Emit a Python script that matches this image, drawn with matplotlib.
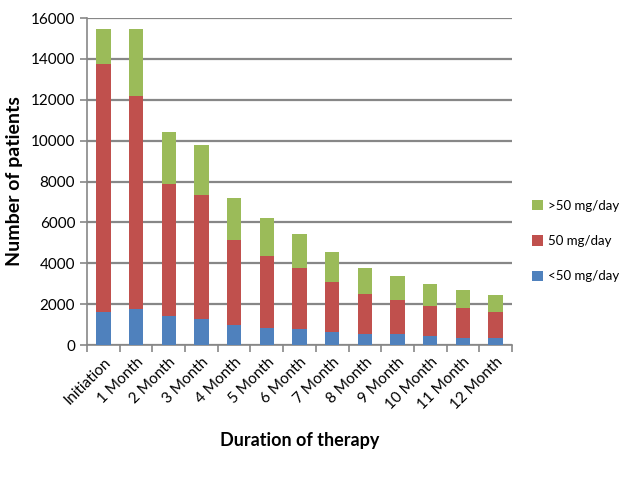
import numpy as np
import matplotlib.pyplot as plt
from matplotlib.ticker import FixedLocator

plt.rcParams['font.family'] = ['Lato', 'DejaVu Sans']

categories = ['Initiation', '1 Month', '2 Month', '3 Month', '4 Month', '5 Month',
              '6 Month', '7 Month', '8 Month', '9 Month', '10 Month', '11 Month', '12 Month']
low = [1630, 1790, 1400, 1270, 990, 850, 770, 650, 540, 520, 440, 360, 360]
mid = [12100, 10380, 6460, 6080, 4150, 3520, 3000, 2450, 1940, 1665, 1480, 1435, 1255]
high = [1720, 3280, 2580, 2450, 2040, 1860, 1645, 1435, 1300, 1190, 1050, 910, 815]

blue, red, green = '#4F81BD', '#C0504D', '#9BBB59'
grid_c = '#878787'

fig = plt.figure(figsize=(6.4, 4.8), dpi=100)
ax = fig.add_axes([0.136, 0.281, 0.664, 0.6815])

x = np.arange(len(categories))
w = 0.44
b1 = ax.bar(x, low, w, color=blue, label='<50 mg/day', zorder=3)
b2 = ax.bar(x, mid, w, bottom=low, color=red, label='50 mg/day', zorder=3)
bot = np.array(low) + np.array(mid)
b3 = ax.bar(x, high, w, bottom=bot, color=green, label='>50 mg/day', zorder=3)

ax.set_xlim(-0.5, len(categories) - 0.5)
ax.set_ylim(0, 16000)
ax.set_yticks(range(0, 16001, 2000))
ax.yaxis.grid(True, color=grid_c, linewidth=1.6, zorder=0)
ax.set_axisbelow(True)

for s in ['top', 'right']:
    ax.spines[s].set_visible(False)
ax.spines['left'].set_color(grid_c)
ax.spines['bottom'].set_color(grid_c)
ax.spines['left'].set_linewidth(1.2)
ax.spines['bottom'].set_linewidth(1.2)

ax.set_xticks(x)
ax.set_xticklabels(categories, rotation=45, ha='right', rotation_mode='anchor', fontsize=11)
ax.tick_params(axis='x', which='major', length=0, pad=7)
ax.xaxis.set_minor_locator(FixedLocator(np.arange(-0.5, len(categories), 1)))
ax.tick_params(axis='x', which='minor', length=5, color=grid_c, width=1.2)
ax.tick_params(axis='y', length=5, color=grid_c, width=1.2, labelsize=11)

ax.set_ylabel('Number of patients', fontsize=14, fontweight='bold', labelpad=6)
ax.set_xlabel('Duration of therapy', fontsize=13, fontweight='bold', labelpad=14)

ax.legend([b3, b2, b1], ['>50 mg/day', '50 mg/day', '<50 mg/day'],
          loc='center left', bbox_to_anchor=(1.02, 0.318), frameon=False,
          fontsize=9.5, handlelength=0.8, handleheight=0.8, labelspacing=1.75,
          handletextpad=0.4)

fig.savefig('out.png', dpi=100)
